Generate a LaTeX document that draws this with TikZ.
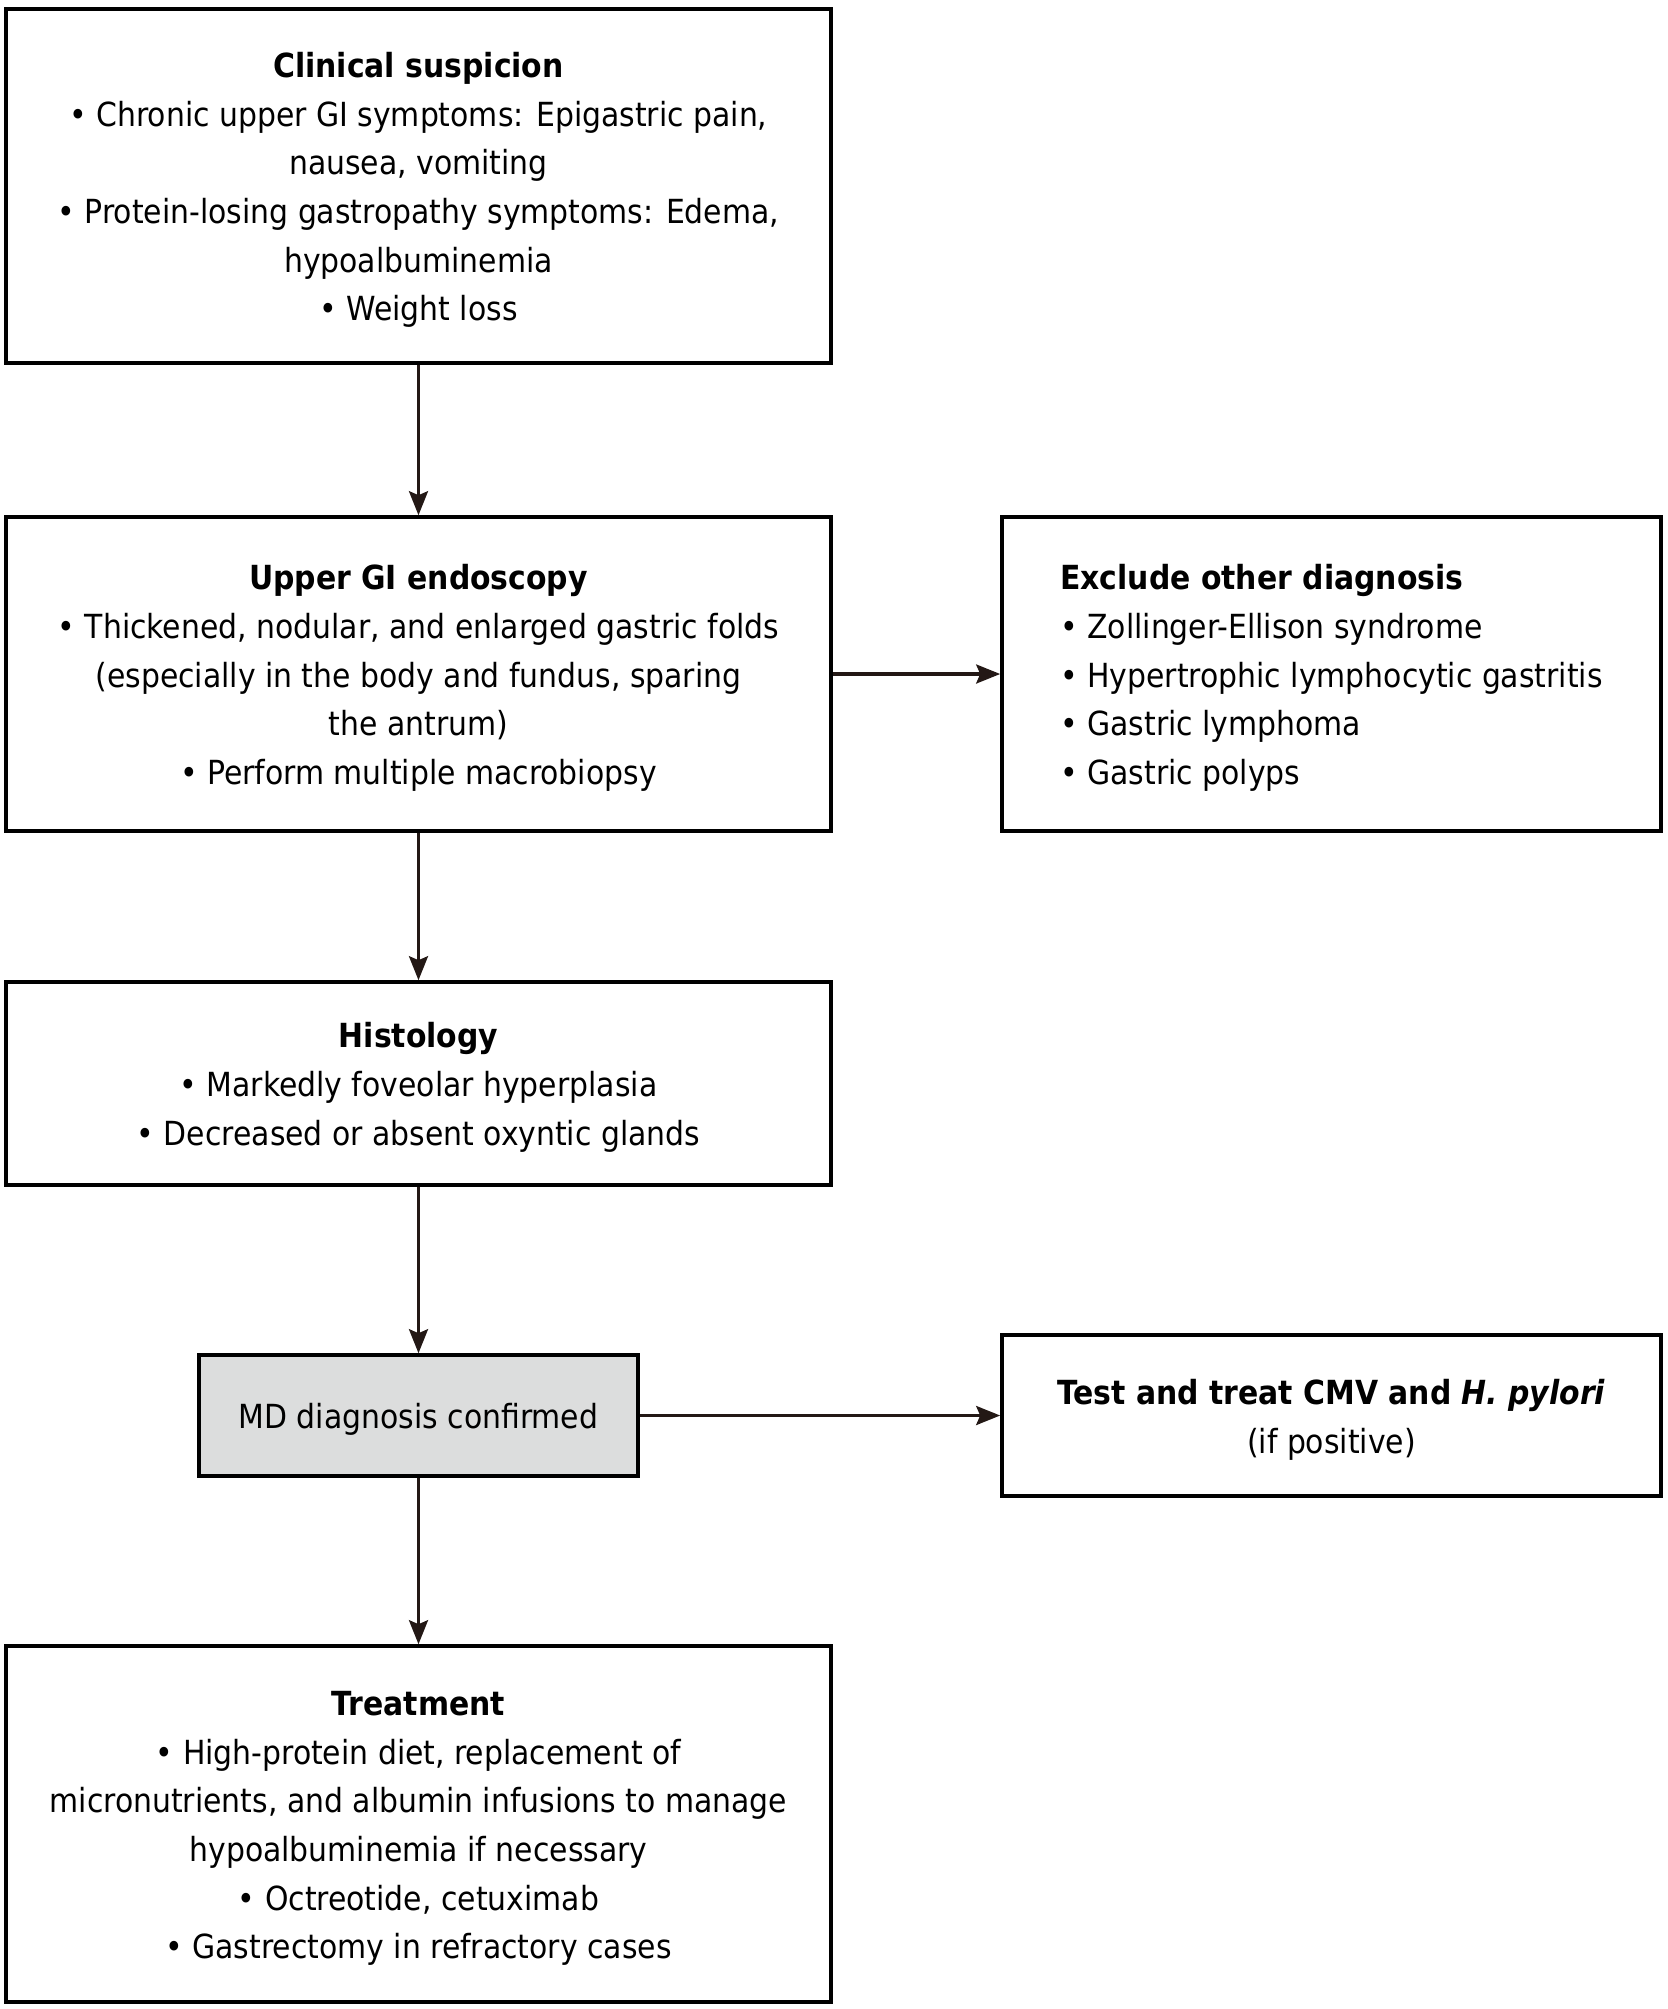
\documentclass[tikz,border=0pt]{standalone}
\usepackage{fontspec}
\setmainfont{DejaVu Sans Condensed}
\usetikzlibrary{arrows.meta}
\definecolor{arrowc}{RGB}{35,24,21}
\definecolor{greyfill}{RGB}{220,221,221}
\newcommand{\topstrut}{\rule{0pt}{16.6pt}}
\tikzset{
  box/.style={draw=black, line width=1.8pt, inner sep=0pt, align=center,
    font=\fontsize{16.6pt}{24.35pt}\selectfont},
  leftbox/.style={box, align=left},
  arr/.style={draw=arrowc, line width=1.6pt, -{Stealth[length=12pt,width=9.5pt,inset=2pt]}}
}
\begin{document}
\begin{tikzpicture}[x=0.5pt,y=-0.5pt]
\useasboundingbox (0,0) rectangle (1667,2009);
\node[box, minimum width=412.5pt, minimum height=177pt] (b1) at (418.5,186)
  {\topstrut\textbf{Clinical suspicion}\\
   • Chronic upper GI symptoms: Epigastric pain,\\
   nausea, vomiting\\
   • Protein-losing gastropathy symptoms: Edema,\\
   hypoalbuminemia\\
   • Weight loss};
\node[box, minimum width=412.5pt, minimum height=157pt] (b2) at (418.5,674)
  {\topstrut\textbf{Upper GI endoscopy}\\
   • Thickened, nodular, and enlarged gastric folds\\
   (especially in the body and fundus, sparing\\
   the antrum)\\
   • Perform multiple macrobiopsy};
\node[leftbox, minimum width=329.5pt, minimum height=157pt] (b3) at (1331.5,674)
  {\topstrut\textbf{Exclude other diagnosis}\\
   • Zollinger-Ellison syndrome\\
   • Hypertrophic lymphocytic gastritis\\
   • Gastric lymphoma\\
   • Gastric polyps};
\node[box, minimum width=412.5pt, minimum height=101.5pt] (b4) at (418.5,1083.5)
  {\topstrut\textbf{Histology}\\
   • Markedly foveolar hyperplasia\\
   • Decreased or absent oxyntic glands};
\node[box, fill=greyfill, minimum width=219.5pt, minimum height=60.5pt] (b5) at (418.5,1415.5)
  {\topstrut MD diagnosis confirmed};
\node[box, minimum width=329.5pt, minimum height=80.5pt] (b6) at (1331.5,1415.5)
  {\topstrut\textbf{Test and treat CMV and \textit{H. pylori}}\\
   (if positive)};
\node[box, minimum width=412.5pt, minimum height=178pt] (b7) at (418.5,1824)
  {\topstrut\textbf{Treatment}\\
   • High-protein diet, replacement of\\
   micronutrients, and albumin infusions to manage\\
   hypoalbuminemia if necessary\\
   • Octreotide, cetuximab\\
   • Gastrectomy in refractory cases};
\draw[arr] (b1) -- (b2);
\draw[arr] (b2) -- (b3);
\draw[arr] (b2) -- (b4);
\draw[arr] (b4) -- (b5);
\draw[arr] (b5) -- (b6);
\draw[arr] (b5) -- (b7);
\end{tikzpicture}
\end{document}
